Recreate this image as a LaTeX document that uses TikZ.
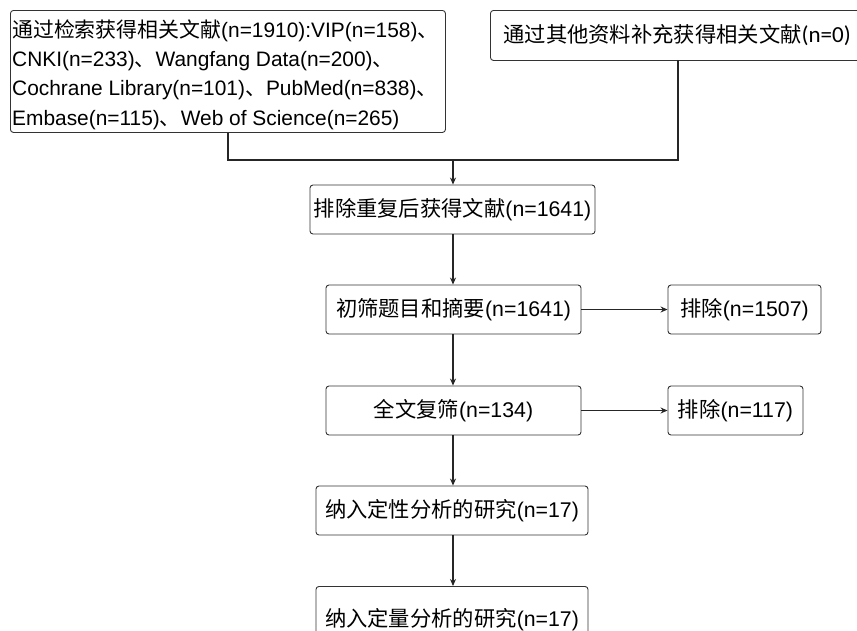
\documentclass[tikz,border=0pt]{standalone}
\usepackage{fontspec}
\setmainfont{Liberation Sans}
\newfontfamily\cjk{Noto Sans CJK SC}
\newfontfamily\calib{Carlito}
\usetikzlibrary{arrows.meta}
\tikzset{
  box/.style={draw=black!80, line width=0.9pt, rounded corners=3pt, inner sep=0pt, font=\fontsize{21.3}{29.5}\selectfont},
  conn/.style={draw=black!85, line width=1.1pt},
  arr/.style={conn, -{Stealth[length=7pt,width=6pt]}}
}
\newcommand{\zh}[1]{{\cjk #1}}
\begin{document}
\begin{tikzpicture}[x=1pt,y=-1pt]
\useasboundingbox (0,0) rectangle (857,630);
\clip (0,0) rectangle (857,630);
\node[box, minimum width=435pt, minimum height=122pt, anchor=north west] (b1) at (10,10) {};
\node[inner sep=0pt, align=left, font=\fontsize{20.9}{29.3}\selectfont, anchor=west, yshift=-3pt] (b1t) at ([xshift=2pt]b1.west)
  {\zh{通过检索获得相关文献}(n=1910):VIP(n=158)\zh{、}\\CNKI(n=233)\zh{、}Wangfang Data(n=200)\zh{、}\\Cochrane Library(n=101)\zh{、}PubMed(n=838)\zh{、}\\Embase(n=115)\zh{、}Web of Science(n=265)};
\node[box, minimum width=376pt, minimum height=50pt, anchor=north west, text width=366pt, align=left] (b2) at (490,10)
  {\hspace*{8pt}\zh{通过其他资料补充获得相关文献}{\calib\fontsize{23}{29}\selectfont(n=0)}};
\coordinate (j) at (453,160);
\coordinate (b2s) at (678,60);
\node[box, minimum width=285pt, minimum height=49pt] (b3) at (452.5,209.5) {\zh{排除重复后获得文献}(n=1641)};
\node[box, minimum width=255pt, minimum height=49pt] (b4) at (453.5,309.5) {\zh{初筛题目和摘要}(n=1641)};
\node[box, minimum width=153pt, minimum height=49pt] (e1) at (744.5,309.5) {\zh{排除}(n=1507)};
\node[box, minimum width=255pt, minimum height=49pt] (b5) at (453.5,410.5) {\zh{全文复筛}(n=134)};
\node[box, minimum width=135pt, minimum height=49pt] (e2) at (735.5,410.5) {\zh{排除}(n=117)};
\node[box, minimum width=272pt, minimum height=49pt] (b6) at (452,510.5) {\zh{纳入定性分析的研究}(n=17)};
\node[box, minimum width=272pt, minimum height=80pt, anchor=north] (b7) at (452,586) {\raisebox{0pt}[0pt][0pt]{\zh{纳入定量分析的研究}(n=17)}};
\draw[conn] (b1.south) |- (j) -| (b2s);
\draw[arr] (j) -- (j |- b3.north);
\draw[arr] (j |- b3.south) -- (j |- b4.north);
\draw[arr] (b4) -- (e1);
\draw[arr] (j |- b4.south) -- (j |- b5.north);
\draw[arr] (b5) -- (e2);
\draw[arr] (j |- b5.south) -- (j |- b6.north);
\draw[arr] (j |- b6.south) -- (j |- b7.north);
\end{tikzpicture}
\end{document}
